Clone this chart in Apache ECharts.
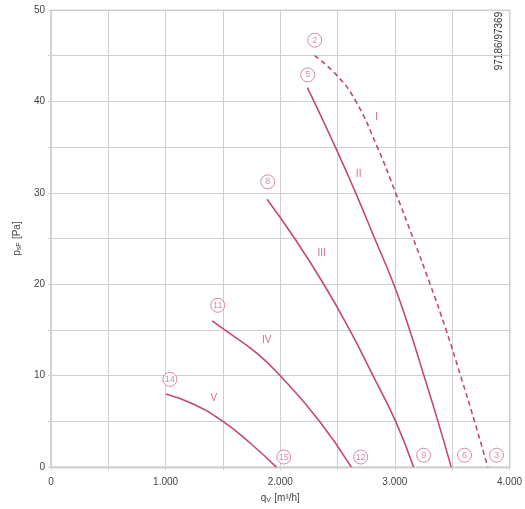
<!DOCTYPE html>
<html lang="en">
<head>
    <meta charset="UTF-8">
    <title>Fan curves</title>
    <script type="text/javascript" src="https://cdn.jsdelivr.net/npm/echarts@6/dist/echarts.min.js"></script>
    <style>
        html, body { margin: 0; padding: 0; background: #fff; }
    </style>
</head>
<body>
<div id="main" style="width:525px;height:509px;"></div>
</body>

<script>
    // curve data [qV m3/h, psF Pa]
    const curveI = [[2300, 45.0], [2490, 42.9], [2660, 40], [2847, 35], [3007, 30], [3160, 25], [3308, 20], [3447, 15], [3573, 10], [3695, 5], [3811, 0]];
    const curveII = [[2237, 41.5], [2481, 35], [2658, 30], [2824, 25], [2990, 20], [3129, 15], [3254, 10], [3376, 5], [3492, 0]];
    const curveIII = [[1885, 29.3], [2126, 25], [2380, 20], [2606, 15], [2809, 10], [3007, 5], [3163, 0]];
    const curveIV = [[1406, 16.0], [1516, 15], [1792, 12.5], [2000, 10], [2344, 5], [2620, 0]];
    const curveV = [[1002, 8.0], [1240, 6.9], [1500, 5], [1749, 2.5], [1966, 0]];

    // circled operating point markers
    const pointMarks = [
        {name: '2', value: [2301, 46.7]},
        {name: '5', value: [2240, 42.9]},
        {name: '8', value: [1891, 31.2]},
        {name: '11', value: [1455, 17.7]},
        {name: '14', value: [1037, 9.6]},
        {name: '15', value: [2031, 1.1]},
        {name: '12', value: [2702, 1.1]},
        {name: '9', value: [3251, 1.3]},
        {name: '6', value: [3608, 1.3]},
        {name: '3', value: [3887, 1.3]}
    ];
    const curveNames = [
        {name: 'I', value: [2841, 38.3]},
        {name: 'II', value: [2684, 32.0]},
        {name: 'III', value: [2362, 23.4]},
        {name: 'IV', value: [1882, 13.9]},
        {name: 'V', value: [1420, 7.5]}
    ];
    const xTicks = [0, 1000, 2000, 3000, 4000];

    const lineColor = '#c2477b';
    const markColor = '#d06a98';
    const gridColor = '#cfcfcf';
    const font = 'Liberation Sans, Arial, sans-serif';

    function fmtThousand(v) {
        if (v === 0) return '0';
        return (v / 1000).toFixed(3);
    }

    function curve(data, dashed) {
        return {
            type: 'line',
            data: data,
            smooth: 0.5,
            showSymbol: false,
            silent: true,
            lineStyle: {color: lineColor, width: 1.6, type: dashed ? [5, 3.5] : 'solid'}
        };
    }

    let myChart = echarts.init(document.getElementById('main'));
    let option = {
        animation: false,
        backgroundColor: '#fff',
        grid: {left: 51, right: 15, top: 10, bottom: 41},
        xAxis: {
            type: 'value', min: 0, max: 4000, interval: 500,
            name: '{q|q}{s|V} {u|[m³/h]}',
            nameLocation: 'middle', nameGap: 20,
            nameTextStyle: {
                rich: {
                    q: {fontSize: 10, color: '#444', fontFamily: font},
                    s: {fontSize: 7, color: '#444', fontFamily: font, verticalAlign: 'bottom', padding: [4, 0, 0, 0]},
                    u: {fontSize: 10, color: '#444', fontFamily: font}
                }
            },
            axisLine: {show: true, lineStyle: {color: gridColor, width: 1.5}},
            axisTick: {show: true, length: 3, lineStyle: {color: gridColor}},
            axisLabel: {
                color: '#444', fontSize: 10, fontFamily: font, margin: 10,
                formatter: v => xTicks.indexOf(v) >= 0 ? fmtThousand(v) : ''
            },
            splitLine: {show: true, lineStyle: {color: gridColor, width: 1}}
        },
        yAxis: {
            type: 'value', min: 0, max: 50, interval: 5,
            name: '{p|p}{s|sF} {u|[Pa]}',
            nameLocation: 'middle', nameGap: 22, nameRotate: 90,
            nameTextStyle: {
                rich: {
                    p: {fontSize: 10, color: '#444', fontFamily: font},
                    s: {fontSize: 7, color: '#444', fontFamily: font, verticalAlign: 'bottom', padding: [4, 0, 0, 0]},
                    u: {fontSize: 10, color: '#444', fontFamily: font}
                }
            },
            axisLine: {show: true, lineStyle: {color: gridColor, width: 1.5}},
            axisTick: {show: true, length: 3, lineStyle: {color: gridColor}},
            axisLabel: {
                color: '#444', fontSize: 10, fontFamily: font, margin: 6,
                formatter: v => v % 10 === 0 ? String(v) : ''
            },
            splitLine: {show: true, lineStyle: {color: gridColor, width: 1}}
        },
        graphic: [
            {
                type: 'rect', silent: true, z: 0,
                shape: {x: 51, y: 10, width: 459, height: 458},
                style: {fill: 'none', stroke: gridColor, lineWidth: 1}
            },
            {
                type: 'text', x: 499, y: 41, rotation: Math.PI / 2, silent: true,
                style: {text: '97186/97369', fill: '#333', font: '10px ' + font, align: 'center', verticalAlign: 'middle'}
            }
        ],
        series: [
            curve(curveI, true),
            curve(curveII),
            curve(curveIII),
            curve(curveIV),
            curve(curveV),
            {
                type: 'scatter',
                data: pointMarks,
                symbol: 'circle',
                symbolSize: 14,
                silent: true,
                itemStyle: {color: '#fff', borderColor: markColor, borderWidth: 1},
                label: {
                    show: true, position: 'inside', formatter: p => p.name,
                    color: markColor, fontSize: 9, fontFamily: font
                }
            },
            {
                type: 'scatter',
                data: curveNames,
                symbolSize: 0,
                silent: true,
                label: {
                    show: true, position: 'inside', formatter: p => p.name,
                    color: lineColor, fontSize: 10, fontFamily: font
                }
            }
        ]
    };
    myChart.setOption(option);
</script>
</html>
